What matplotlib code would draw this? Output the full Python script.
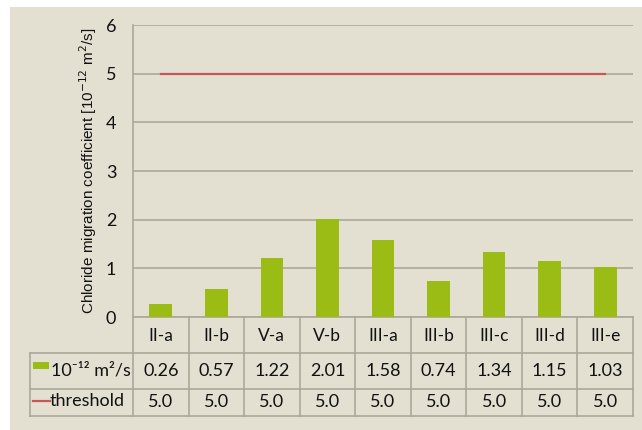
import matplotlib.pyplot as plt
import matplotlib.transforms as mtransforms
from matplotlib.patches import Rectangle
from matplotlib.lines import Line2D

categories = ['II-a', 'II-b', 'V-a', 'V-b', 'III-a', 'III-b', 'III-c', 'III-d', 'III-e']
coeff = [0.26, 0.57, 1.22, 2.01, 1.58, 0.74, 1.34, 1.15, 1.03]
threshold = [5.0, 5.0, 5.0, 5.0, 5.0, 5.0, 5.0, 5.0, 5.0]
row_labels = ['10\u207b\u00b9\u00b2 m\u00b2/s', 'threshold']

bg = '#e3dfd1'
grid_c = '#aba799'
green = '#9bbb15'
red = '#c9565a'
txt = '#111111'

plt.rcParams['font.family'] = ['Lato', 'DejaVu Sans']

W, H = 642, 430
fig = plt.figure(figsize=(W / 100, H / 100), dpi=100)
fig.patch.set_facecolor('white')
fig.patches.append(Rectangle((10 / W, 0), 1 - 10 / W, 1 - 7 / H, transform=fig.transFigure,
                             facecolor=bg, edgecolor='none', zorder=-10))

def fy(py):
    return 1 - py / H

ax = fig.add_axes([133 / W, fy(317), 500 / W, (317 - 25) / H])
ax.set_facecolor('none')
x = list(range(len(categories)))
ax.bar(x, coeff, width=0.41, color=green, zorder=3)
ax.plot(x, threshold, color=red, lw=1.6, zorder=4)
ax.set_xlim(-0.5, len(categories) - 0.5)
ax.set_ylim(0, 6)
ax.set_yticks(range(7))
ax.yaxis.grid(True, color=grid_c, lw=1.2)
ax.set_axisbelow(True)
ax.tick_params(axis='y', length=0, labelsize=13, labelcolor=txt, pad=12)
ax.set_xticks([])
for s in ['top', 'right']:
    ax.spines[s].set_visible(False)
for s in ['left', 'bottom']:
    ax.spines[s].set_color(grid_c)
    ax.spines[s].set_linewidth(1.2)
ax.set_ylabel('Chloride migration coefficient [10$^{-12}$ m$^2$/s]', fontsize=11,
              color=txt, family=['Liberation Sans', 'DejaVu Sans'])
ax.yaxis.set_label_coords(-0.068, 0.5)

# table under the chart
tr = mtransforms.blended_transform_factory(ax.transData, fig.transFigure)
rows = [317, 353, 389, 416]
n = len(categories)
for i in range(n + 1):
    fig.add_artist(Line2D([i - 0.5, i - 0.5], [fy(317), fy(416)], transform=tr,
                          color=grid_c, lw=1.2))
for py in rows[1:]:
    fig.add_artist(Line2D([30 / W, 633 / W], [fy(py), fy(py)], transform=fig.transFigure,
                          color=grid_c, lw=1.2))
fig.add_artist(Line2D([30 / W, 30 / W], [fy(353), fy(416)], transform=fig.transFigure,
                      color=grid_c, lw=1.2))

for i, c in enumerate(categories):
    fig.text(i, fy(336), c, transform=tr, ha='center', va='center', fontsize=12.5, color=txt)
    fig.text(i, fy(371), f'{coeff[i]:.2f}', transform=tr, ha='center', va='center',
             fontsize=13, color=txt)
    fig.text(i, fy(402), f'{threshold[i]:.1f}', transform=tr, ha='center', va='center',
             fontsize=13, color=txt)

fig.patches.append(Rectangle((33 / W, fy(369)), 16 / W, 7 / H, transform=fig.transFigure,
                             facecolor=green, edgecolor='none'))
fig.text(51 / W, fy(371), row_labels[0], ha='left', va='center', fontsize=13, color=txt)
fig.add_artist(Line2D([33 / W, 50 / W], [fy(401), fy(401)], transform=fig.transFigure,
                      color=red, lw=1.6))
fig.text(50 / W, fy(401), row_labels[1], ha='left', va='center', fontsize=13, color=txt)

fig.savefig('out.png', dpi=100, facecolor=fig.get_facecolor())
